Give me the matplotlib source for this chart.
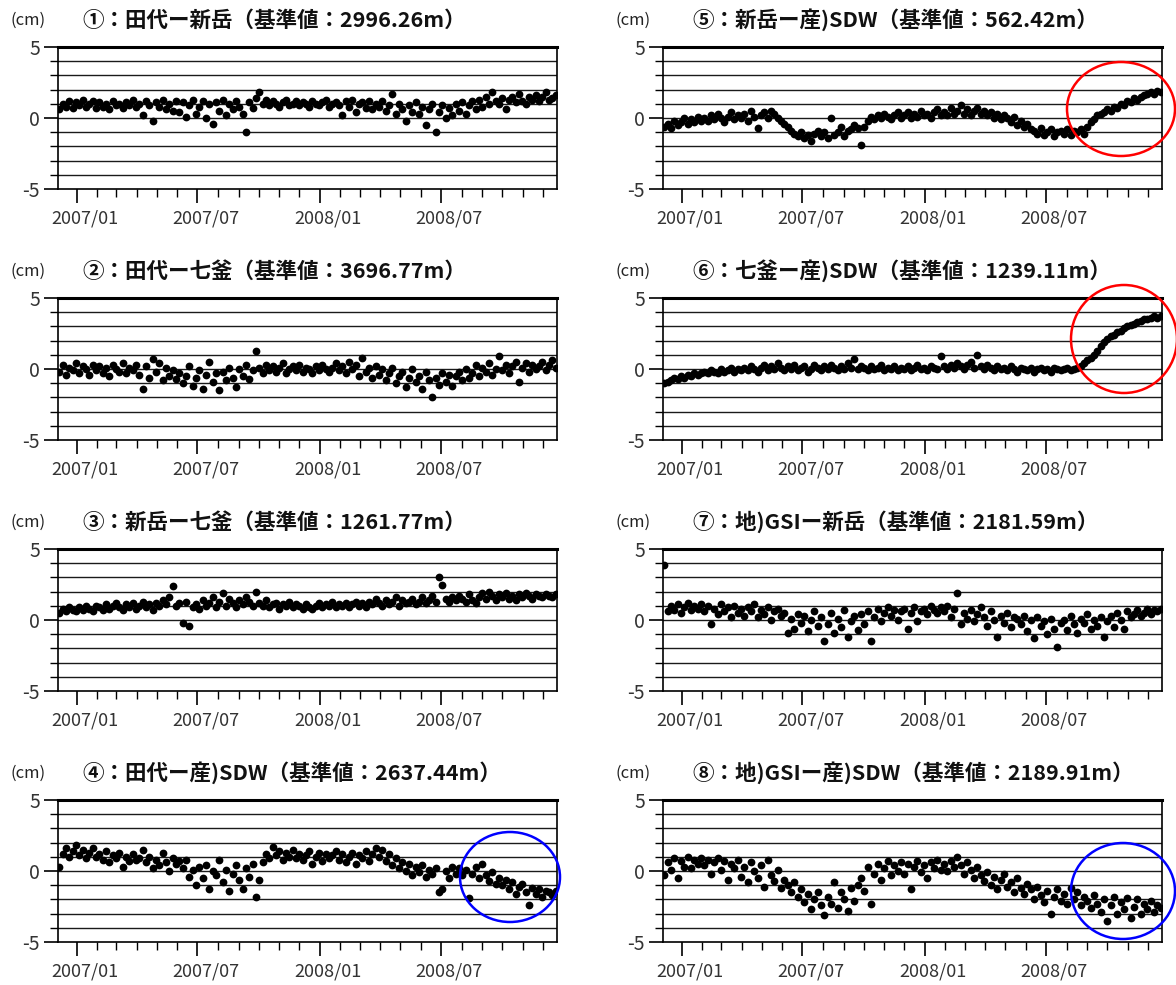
import pandas as pd
import matplotlib
matplotlib.use("Agg")
import matplotlib.pyplot as plt
import matplotlib.dates as mdates
import matplotlib.transforms as mtransforms
from matplotlib.patches import Ellipse

plt.rcParams['font.family'] = ['Noto Sans CJK JP', 'DejaVu Sans']
plt.rcParams['axes.unicode_minus'] = False

# Baseline-length changes (cm), one reading every 5 days from 2006/12/06
start_date = "2006-12-06"
step = "5D"

titles = [
    "①：田代ー新岳（基準値：2996.26m）",
    "②：田代ー七釜（基準値：3696.77m）",
    "③：新岳ー七釜（基準値：1261.77m）",
    "④：田代ー産)SDW（基準値：2637.44m）",
    "⑤：新岳ー産)SDW（基準値：562.42m）",
    "⑥：七釜ー産)SDW（基準値：1239.11m）",
    "⑦：地)GSIー新岳（基準値：2181.59m）",
    "⑧：地)GSIー産)SDW（基準値：2189.91m）",
]

p1 = [0.6, 1.0, 0.8, 1.2, 0.7, 1.1, 0.9, 1.3, 0.8, 1.0, 1.2, 0.7,
      1.1, 0.8, 1.0, 0.6, 1.2, 0.9, 1.0, 0.7, 1.1, 0.9, 1.3, 0.8,
      1.0, 0.2, 1.2, 0.9, -0.2, 1.1, 0.8, 1.3, 0.6, 1.0, 0.5, 1.2,
      0.4, 1.1, 0.1, 0.9, 1.3, 0.3, 0.8, 1.2, 0.0, 1.0, -0.4, 1.1,
      0.5, 1.3, 0.2, 1.0, 0.6, 1.2, 0.8, 0.3, -1.0, 1.1, 0.7, 1.4,
      1.8, 1.0, 1.3, 0.9, 1.2, 1.0, 0.8, 1.1, 1.3, 0.9, 1.0, 1.2,
      0.9, 1.1, 1.0, 0.8, 1.2, 1.0, 0.9, 1.1, 1.3, 0.8, 1.0, 1.1,
      0.9, 0.2, 1.2, 0.8, 1.3, 0.4, 1.0, 1.1, 0.7, 1.2, 0.6, 1.0,
      0.8, 1.2, 0.5, 0.9, 1.7, 0.3, 1.0, 0.6, -0.2, 0.9, 0.4, 1.1,
      0.3, 0.8, -0.5, 0.6, 1.0, -1.0, 0.4, 0.9, 0.0, 0.7, 0.2, 1.0,
      0.5, 1.1, 0.3, 0.9, 1.2, 0.6, 1.3, 0.8, 1.5, 1.0, 1.8, 1.2,
      1.0, 1.4, 0.6, 1.3, 1.5, 1.1, 1.7, 1.2, 1.0, 1.5, 1.3, 1.6,
      1.2, 1.5, 1.8, 1.3, 1.4, 1.6]

p2 = [-0.2, 0.3, -0.4, 0.1, -0.1, 0.4, -0.3, 0.2, 0.0, -0.4, 0.3, -0.1,
      0.2, -0.3, 0.1, -0.5, 0.3, 0.0, -0.2, 0.4, -0.3, 0.1, -0.1, 0.3,
      -0.4, -1.4, 0.2, -0.6, 0.7, -0.2, 0.4, -0.8, 0.1, -0.5, -0.1, -0.7,
      -0.3, -1.0, -0.5, 0.2, -1.2, -0.6, -0.1, -1.4, -0.4, 0.5, -0.9, -0.3,
      -1.5, -0.2, -0.8, 0.1, -0.6, -1.3, 0.0, -0.5, 0.3, -0.7, -0.1, 1.3,
      0.1, -0.3, 0.3, -0.1, 0.2, -0.2, 0.1, 0.4, -0.3, 0.0, 0.2, -0.1,
      0.3, -0.2, 0.1, 0.0, -0.3, 0.2, -0.1, 0.3, 0.0, -0.2, 0.1, 0.4,
      -0.1, 0.2, -0.3, 0.5, 0.0, 0.3, -0.5, 0.8, -0.2, 0.1, -0.6, 0.2,
      -0.4, 0.0, -0.8, -0.3, 0.1, -1.0, -0.5, -0.2, -1.3, -0.6, 0.0, -0.9,
      -0.5, -1.4, -0.2, -0.8, -2.0, -0.6, -1.1, -0.3, -0.9, -0.4, -1.2, -0.5,
      -0.2, -0.8, 0.0, -0.6, -0.3, 0.3, -0.5, 0.1, -0.2, 0.4, -0.4, 0.0,
      0.9, -0.1, 0.3, -0.3, 0.2, 0.5, -0.9, 0.1, 0.4, -0.2, 0.3, 0.0,
      0.2, 0.5, -0.1, 0.3, 0.6, 0.1]

p3 = [0.5, 0.8, 0.6, 0.9, 0.7, 0.6, 0.9, 0.7, 1.0, 0.8, 0.6, 1.0,
      0.9, 0.7, 1.1, 0.8, 1.0, 1.2, 0.9, 0.7, 1.1, 0.9, 1.2, 0.8,
      1.0, 1.3, 0.9, 1.1, 0.7, 1.2, 1.0, 1.4, 1.1, 1.6, 2.4, 1.0,
      1.2, -0.2, 1.3, -0.4, 0.9, 1.1, 0.8, 1.4, 1.0, 1.2, 1.6, 0.9,
      1.3, 1.9, 1.0, 1.5, 1.2, 0.9, 1.4, 1.1, 1.6, 1.3, 1.0, 2.0,
      1.2, 1.0, 1.4, 0.9, 1.1, 1.2, 0.8, 1.1, 1.0, 1.3, 0.9, 1.1,
      1.0, 0.8, 1.1, 0.9, 0.8, 1.0, 1.2, 0.9, 1.1, 1.0, 1.3, 0.9,
      1.1, 1.0, 1.2, 0.9, 1.1, 1.3, 1.0, 1.2, 0.9, 1.3, 1.1, 1.5,
      1.2, 1.0, 1.4, 1.1, 1.3, 1.6, 1.0, 1.4, 1.2, 1.3, 1.5, 1.1,
      1.3, 1.6, 1.2, 1.4, 1.7, 1.3, 3.0, 2.5, 1.5, 1.3, 1.6, 1.4,
      1.7, 1.5, 1.3, 1.8, 1.4, 1.2, 1.6, 1.9, 1.5, 2.0, 1.7, 1.4,
      1.8, 1.6, 1.9, 1.5, 1.7, 1.4, 1.8, 1.6, 1.9, 1.7, 1.5, 1.8,
      1.7, 1.6, 1.8, 1.7, 1.6, 1.8]

p4 = [0.3, 1.2, 1.6, 1.0, 1.4, 1.8, 1.1, 1.5, 0.9, 1.3, 1.6, 1.0,
      1.2, 0.8, 1.4, 0.6, 1.1, 0.9, 1.3, 0.3, 1.0, 0.7, 1.2, 0.8,
      0.9, 1.5, 0.6, 1.0, 0.2, 0.8, 0.4, 1.3, 0.6, 0.0, 0.9, 0.5,
      0.7, 0.2, 0.8, -0.4, 0.1, -1.0, 0.3, -0.5, 0.4, -1.3, 0.0, -0.3,
      0.8, -0.8, 0.1, -1.4, -0.2, 0.4, -0.6, -1.3, 0.2, -0.4, 0.5, -1.8,
      -0.6, 0.6, 1.2, 0.9, 1.7, 1.1, 1.4, 0.8, 1.3, 1.0, 1.5, 0.9,
      1.2, 0.8, 1.1, 1.4, 0.5, 1.0, 1.3, 0.7, 1.2, 0.9, 1.1, 1.4,
      0.8, 1.2, 0.6, 1.0, 1.3, 0.5, 1.1, 0.9, 1.4, 0.7, 1.2, 1.6,
      1.0, 1.5, 0.7, 1.2, 0.4, 0.9, 0.2, 0.6, 0.0, 0.5, -0.3, 0.3,
      -0.1, 0.4, -0.4, 0.1, -0.2, 0.2, -1.5, -1.3, 0.0, -0.5, 0.3, -0.2,
      0.2, -0.3, 0.1, -1.9, -0.2, 0.3, -0.5, 0.5, -0.3, -0.7, -0.1, -0.9,
      -0.5, -1.0, -0.6, -1.3, -0.8, -1.6, -1.1, -0.9, -1.5, -2.4, -1.2, -1.6,
      -1.3, -1.8, -1.4, -1.5, -1.7, -1.4]

p5 = [-0.6, -0.4, -0.7, -0.2, -0.5, -0.3, 0.0, -0.4, -0.1, -0.3, 0.1, -0.2,
      0.0, -0.2, 0.2, -0.1, 0.3, 0.0, -0.3, 0.1, 0.4, -0.1, 0.2, 0.0,
      0.3, -0.2, 0.5, 0.1, -0.7, 0.2, 0.4, 0.0, 0.5, 0.3, 0.0, -0.2,
      -0.4, -0.6, -0.9, -1.1, -1.3, -1.0, -1.4, -1.2, -1.6, -1.1, -0.9, -1.3,
      -1.0, -1.4, 0.0, -1.2, -1.0, -0.6, -1.3, -0.9, -0.8, -0.5, -0.7, -1.9,
      -0.6, -0.2, 0.1, -0.1, 0.2, 0.0, 0.3, 0.1, -0.1, 0.2, 0.4, 0.0,
      0.2, 0.4, 0.0, 0.3, 0.1, 0.5, 0.2, 0.3, 0.0, 0.4, 0.6, 0.2,
      0.4, 0.2, 0.7, 0.3, 0.5, 0.9, 0.3, 0.6, 0.2, 0.5, 0.7, 0.3,
      0.5, 0.2, 0.4, 0.0, 0.3, -0.1, 0.2, 0.0, -0.3, 0.1, -0.5, -0.2,
      -0.6, -0.4, -0.8, -0.9, -1.1, -0.7, -1.2, -1.0, -0.8, -1.3, -1.0, -0.9,
      -1.1, -0.8, -1.2, -0.9, -1.0, -0.8, -1.1, -0.6, -0.3, -0.1, 0.2, 0.3,
      0.4, 0.6, 0.5, 0.8, 0.7, 1.0, 0.9, 1.2, 1.1, 1.4, 1.3, 1.5,
      1.6, 1.7, 1.8, 1.7, 1.9, 1.8]

p6 = [-1.0, -0.9, -0.8, -0.6, -0.7, -0.5, -0.6, -0.4, -0.5, -0.3, -0.4, -0.3,
      -0.2, -0.3, -0.1, -0.2, -0.3, 0.0, -0.2, -0.1, 0.1, -0.2, 0.0, -0.1,
      0.1, -0.1, 0.2, 0.0, -0.2, 0.1, 0.3, -0.1, 0.2, 0.0, 0.4, 0.1,
      -0.1, 0.2, 0.0, 0.3, -0.1, 0.1, 0.2, -0.2, 0.0, 0.3, 0.1, -0.1,
      0.2, 0.0, 0.3, 0.1, -0.1, 0.2, 0.0, 0.4, 0.1, 0.7, 0.0, 0.2,
      0.1, -0.1, 0.2, 0.0, 0.1, 0.3, -0.1, 0.1, 0.0, 0.2, -0.1, 0.1,
      0.0, 0.2, -0.1, 0.1, 0.3, 0.0, 0.1, -0.1, 0.2, 0.1, 0.0, 0.9,
      0.2, 0.0, 0.3, 0.1, 0.4, 0.2, 0.0, 0.3, 0.5, 0.1, 1.0, 0.2,
      0.0, 0.3, 0.1, -0.1, 0.2, 0.0, 0.1, -0.1, 0.2, 0.0, -0.2, 0.1,
      0.0, -0.1, 0.1, -0.2, 0.0, 0.1, -0.1, 0.0, -0.2, 0.1, 0.0, -0.1,
      0.0, 0.1, -0.1, 0.0, 0.1, 0.2, 0.4, 0.6, 0.8, 1.0, 1.3, 1.6,
      1.9, 2.1, 2.3, 2.4, 2.6, 2.7, 2.9, 3.0, 3.1, 3.2, 3.3, 3.4,
      3.5, 3.5, 3.6, 3.7, 3.6, 3.7]

p7 = [3.9, 0.6, 1.0, 0.7, 1.1, 0.5, 0.9, 1.2, 0.7, 1.0, 0.8, 1.1,
      0.6, 1.0, -0.3, 0.8, 0.4, 1.1, 0.6, 0.9, 0.2, 1.0, 0.5, 0.8,
      0.3, 0.9, 0.6, 1.1, 0.2, 0.7, 0.4, 0.9, 0.0, 0.6, 0.8, 0.3,
      0.5, -0.9, 0.1, -0.6, 0.4, -0.2, 0.3, -0.8, 0.0, 0.6, -0.4, 0.2,
      -1.5, -0.3, 0.5, -0.9, 0.1, -0.5, 0.7, -1.2, -0.1, 0.3, -0.7, 0.4,
      -0.3, 0.6, -1.5, 0.2, 0.8, -0.1, 0.5, 0.9, 0.3, 0.7, 0.0, 0.6,
      0.8, -0.6, 0.5, 0.9, -0.1, 0.6, 0.8, 0.4, 1.0, 0.7, 0.5, 0.9,
      0.6, 1.0, 0.2, 0.8, 1.9, -0.3, 0.5, 0.1, 0.7, -0.1, 0.4, 0.9,
      0.2, -0.4, 0.6, 0.0, -1.2, 0.3, -0.2, 0.5, -0.5, 0.2, 0.1, -0.3,
      0.3, -0.8, 0.0, -1.3, 0.2, -0.4, -0.1, -1.0, 0.1, -0.6, -1.9, -0.2,
      0.0, -0.7, 0.3, -0.3, -0.9, 0.1, -0.2, 0.4, -0.6, 0.0, -0.4, 0.2,
      -1.2, -0.1, 0.3, -0.5, 0.5, 0.0, -0.6, 0.6, 0.2, 0.4, 0.7, 0.3,
      0.5, 0.8, 0.4, 0.7, 0.6, 0.8]

p8 = [-0.3, 0.6, 0.1, 0.9, -0.5, 0.7, 0.3, 1.0, 0.2, 0.8, 0.5, 0.9,
      0.4, 0.8, -0.2, 0.6, 0.9, 0.1, 0.7, -0.6, 0.5, 0.2, 0.8, -0.4,
      0.3, -0.8, 0.6, 0.0, -0.5, 0.4, -1.1, 0.8, -0.3, -0.7, 0.1, -1.2,
      -0.6, -1.0, -1.5, -0.8, -1.8, -1.3, -2.2, -1.6, -2.7, -2.0, -1.5, -2.4,
      -3.1, -1.8, -2.3, -0.8, -2.6, -1.5, -2.0, -2.8, -1.2, -2.1, -1.0, -0.5,
      -1.4, 0.3, -2.3, -0.2, 0.5, -0.6, 0.2, 0.7, -0.3, 0.4, 0.0, 0.6,
      -0.2, 0.5, -1.3, 0.3, 0.7, -0.1, 0.4, -0.5, 0.6, 0.2, 0.8, 0.1,
      0.5, 0.0, 0.7, 0.3, 1.0, 0.4, -0.2, 0.6, 0.1, -0.5, 0.3, -0.3,
      -0.7, -0.1, -1.0, -0.4, -1.3, -0.6, -0.2, -1.1, -0.8, -1.5, -0.5, -1.2,
      -1.6, -0.9, -1.3, -2.0, -1.1, -1.7, -2.2, -1.4, -3.0, -1.8, -1.3, -2.1,
      -1.6, -2.3, -1.2, -2.0, -1.5, -2.4, -1.8, -2.1, -2.6, -1.7, -2.3, -2.9,
      -2.0, -3.5, -2.4, -1.8, -3.0, -2.2, -2.7, -1.9, -3.3, -2.5, -2.0, -3.0,
      -2.3, -2.7, -2.1, -2.9, -2.4, -2.6]

series = [p1, p2, p3, p4, p5, p6, p7, p8]

# annotation circles: (panel index, colour, centre x px, centre y px, rx, ry)
circles = [(4, "red", 1121, 109, 54, 47),
           (5, "red", 1124, 339, 53, 54),
           (3, "blue", 510, 877, 50, 45),
           (7, "blue", 1123, 891, 52, 48)]

W, H = 1176, 985
fig = plt.figure(figsize=(W / 100, H / 100), dpi=100)

col_left = [58, 663]
ax_w = 499
ax_h = 142

for i, (vals, title) in enumerate(zip(series, titles)):
    col = i // 4
    row = i % 4
    top = 47 + 251 * row
    ax = fig.add_axes([col_left[col] / W, 1 - (top + ax_h) / H, ax_w / W, ax_h / H])
    dates = pd.date_range(start_date, periods=len(vals), freq=step)
    ax.plot(dates, vals, linestyle="none", marker="o", ms=5.6, color="black",
            markeredgewidth=0, zorder=3)

    ax.set_ylim(-5, 5)
    ax.set_xlim(pd.Timestamp("2006-12-04"), pd.Timestamp("2008-12-22"))
    ax.set_yticks([-5, 0, 5])
    ax.set_yticklabels(["-5", "0", "5"])
    ax.set_yticks(range(-4, 5), minor=True)
    for yv in range(-4, 5):
        ax.axhline(yv, color="#1a1a1a", lw=1.0, zorder=1)

    ax.xaxis.set_major_locator(mdates.MonthLocator(bymonth=[1, 7]))
    ax.xaxis.set_major_formatter(mdates.DateFormatter("%Y/%m"))
    ax.xaxis.set_minor_locator(mdates.MonthLocator())
    ax.tick_params(axis="both", which="major", length=10, width=1.2, color="black")
    ax.tick_params(axis="both", which="minor", length=6, width=1.0, color="black")
    ax.tick_params(axis="x", which="major", labelsize=13, pad=5, labelcolor="#333333")
    ax.tick_params(axis="y", which="major", labelsize=14, pad=3, labelcolor="#333333")
    offset = mtransforms.ScaledTranslation(6 / 72, 0, fig.dpi_scale_trans)
    for lab in ax.get_xticklabels():
        lab.set_transform(lab.get_transform() + offset)

    for side in ["left", "right", "bottom"]:
        ax.spines[side].set_linewidth(1.2)
    ax.spines["top"].set_linewidth(2.2)

    ty = 1 - (20 + 251 * row) / H
    fig.text((28 + 605 * col) / W, ty, "(cm)", fontsize=12, ha="center", va="center",
             color="#222222")
    fig.text((82 + 610 * col) / W, ty, title, fontsize=15.5, fontweight="bold",
             ha="left", va="center", color="#111111")

for idx, color, cx, cy, rx, ry in circles:
    e = Ellipse((cx / W, 1 - cy / H), 2 * rx / W, 2 * ry / H, transform=fig.transFigure,
                fill=False, edgecolor=color, lw=1.8, zorder=10)
    fig.add_artist(e)

fig.savefig("out.png", dpi=100)
